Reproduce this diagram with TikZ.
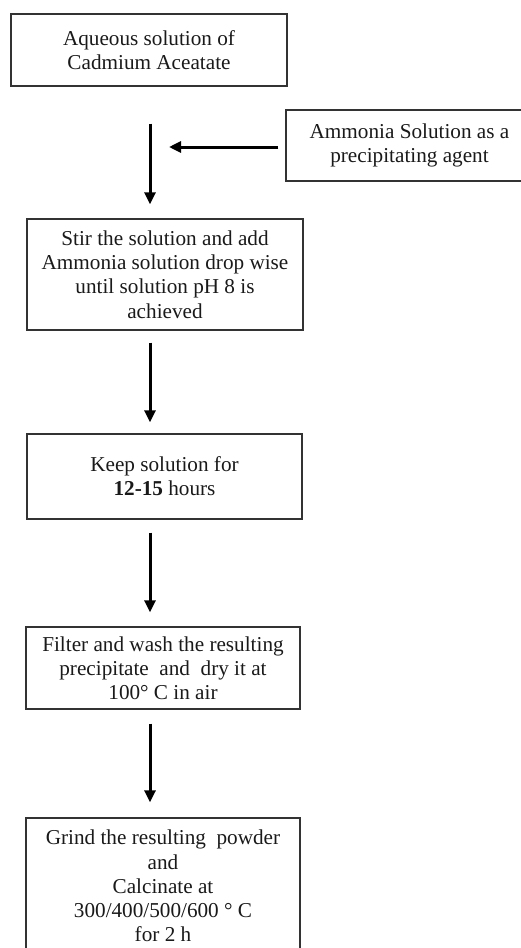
\documentclass[tikz,border=0pt]{standalone}
\usepackage{fontspec}
\setmainfont{Liberation Serif}
\usetikzlibrary{arrows.meta}
\definecolor{boxline}{HTML}{333333}
\definecolor{ink}{HTML}{1A1A1A}
\tikzset{
  stepbox/.style={draw=boxline, line width=1.4pt, inner sep=0pt, align=center,
    text=ink, font=\fontsize{21.2pt}{24.2pt}\selectfont},
  flowarrow/.style={draw=black, line width=3pt,
    -{Triangle[width=11pt,length=12pt]}}
}
\begin{document}
\begin{tikzpicture}[x=1pt,y=-1pt]
\useasboundingbox (0,0) rectangle (521,948);
\fill[white] (0,0) rectangle (521,948);
\clip (0,0) rectangle (521,948);

\node[stepbox, minimum width=276pt, minimum height=72pt] (b1) at (149,50)
  {Aqueous solution of\\Cadmium Aceatate};
\node[stepbox, minimum width=247pt, minimum height=71pt] (side) at (409.5,145.5)
  {Ammonia Solution as a\\precipitating agent};
\node[stepbox, minimum width=276pt, minimum height=111pt] (b2) at (165,274.5)
  {Stir the solution and add\\Ammonia solution drop wise\\until solution pH 8 is\\achieved};
\node[stepbox, minimum width=275pt, minimum height=85pt] (b3) at (164.5,476.5)
  {Keep solution for\\\textbf{12-15} hours};
\node[stepbox, minimum width=274pt, minimum height=82pt] (b4) at (163,668)
  {Filter and wash the resulting\\precipitate\ \ and\ \ dry it at\\100\textdegree\ C in air};
\node[stepbox, minimum width=274pt, minimum height=136pt] (b5) at (163,886)
  {Grind the resulting\ \ powder\\and\\Calcinate at\\300/400/500/600 \textdegree\ C\\for 2 h};

\coordinate (ax) at (150,0);
\coordinate (hy) at (0,147);

\draw[flowarrow, shorten <=37pt, shorten >=14pt] (b1.south -| ax) -- (b2.north -| ax);
\draw[flowarrow, shorten <=7pt] (side.west |- hy) -- (169,147);
\draw[flowarrow, shorten <=12pt, shorten >=11pt] (b2.south -| ax) -- (b3.north -| ax);
\draw[flowarrow, shorten <=13pt, shorten >=14pt] (b3.south -| ax) -- (b4.north -| ax);
\draw[flowarrow, shorten <=14pt, shorten >=15pt] (b4.south -| ax) -- (b5.north -| ax);
\end{tikzpicture}
\end{document}
